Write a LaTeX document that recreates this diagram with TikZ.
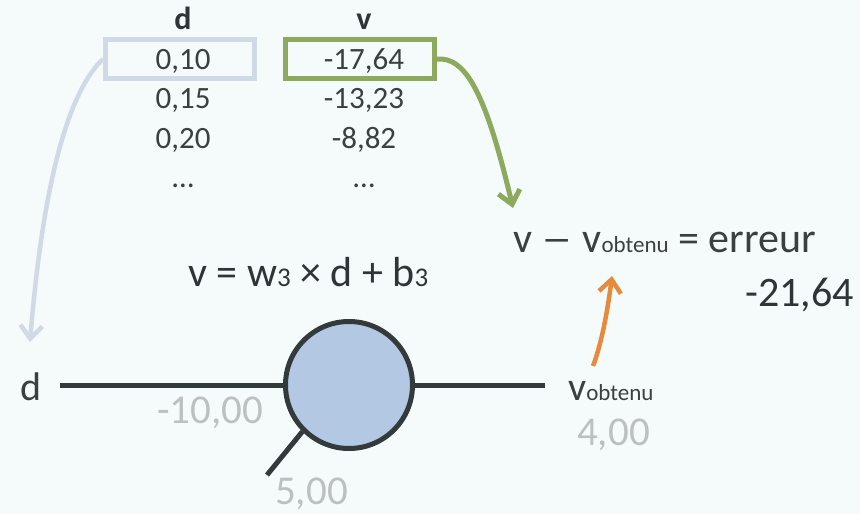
\documentclass[tikz,border=0pt]{standalone}
\usepackage{fontspec}
\setmainfont{Carlito}
\usetikzlibrary{arrows.meta}
\definecolor{bg}{HTML}{F5FAFA}
\definecolor{tdark}{HTML}{3A3F40}
\definecolor{tdeep}{HTML}{2F3536}
\definecolor{tgrey}{HTML}{BDC0C0}
\definecolor{boxblue}{HTML}{CFDAE6}
\definecolor{boxgreen}{HTML}{8DA95E}
\definecolor{cfill}{HTML}{B3C9E3}
\definecolor{cline}{HTML}{323A3B}
\definecolor{arrorange}{HTML}{E68B3E}
\newcommand\smallsub[1]{{\fontsize{23}{27}\selectfont #1}}
\newcommand\smalldigit[1]{{\fontsize{27}{32}\selectfont #1}}
\begin{document}
\begin{tikzpicture}[x=1pt,y=-1pt,
  cell/.style={inner sep=0pt, anchor=base, text=tdark, font=\fontsize{31}{37}\selectfont},
  hdr/.style={inner sep=0pt, anchor=base, text=tdeep, font=\fontsize{32}{38}\selectfont\bfseries},
  tbox/.style={draw=#1, line width=5pt, minimum width=149pt, minimum height=39pt, inner sep=0pt},
  lbl/.style={inner sep=0pt, anchor=base west, text=tdark, font=\fontsize{40}{48}\selectfont},
  glbl/.style={inner sep=0pt, anchor=base west, text=tgrey, font=\fontsize{41}{49}\selectfont},
  neuron/.style={circle, draw=cline, fill=cfill, line width=5pt, minimum size=127pt, inner sep=0pt},
  wire/.style={draw=cline, line width=5pt},
  barb/.style={line width=4.5pt, draw=#1, -{Straight Barb[length=13pt,width=22pt]}}
]
\useasboundingbox (0,0) rectangle (860,514);
\fill[bg] (0,0) rectangle (860,514);

% table
\node[hdr] (hd) at (183,30) {d};
\node[hdr] (hv) at (364,30) {v};
\node[tbox=boxblue] (bd) at (180,59) {};
\node[tbox=boxgreen] (bv) at (360,59) {};
\node[cell] (d1) at (183,69) {0,10};
\node[cell] (d2) at (183,108.5) {0,15};
\node[cell] (d3) at (183,148) {0,20};
\node[cell] (d4) at (183,187.5) {…};
\node[cell] (v1) at (364,69) {-17,64};
\node[cell] (v2) at (364,108.5) {-13,23};
\node[cell] (v3) at (364,148) {-8,82};
\node[cell] (v4) at (364,187.5) {…};

% neuron
\coordinate (in) at (60,385);
\coordinate (out) at (545,385);
\coordinate (bias) at (267,475);
\node[neuron] (n) at (349,385) {};
\draw[wire] (in) -- (n.west);
\draw[wire] (n.east) -- (out);
\draw[wire] (n.225) -- (bias);

% labels
\node[lbl] (din) at (20,400) {d};
\node[glbl] (wv) at (157,423) {-10,00};
\node[glbl] (bvv) at (275,504) {5,00};
\node[lbl] (vo) at (568,400) {v\smallsub{obtenu}};
\node[glbl] (vov) at (577,445) {4,00};
\node[lbl, font=\fontsize{42}{50}\selectfont] (eq1) at (513,252) {v \scalebox{1.5}[1]{–} v\smallsub{obtenu} = erreur};
\node[lbl, text=tdeep, font=\fontsize{42}{50}\selectfont] (err) at (745,306) {-21,64};
\node[lbl, text=tdeep, font=\fontsize{42}{50}\selectfont] (eq2) at (188,286) {v = w\smalldigit{3} × d + b\smalldigit{3}};

% arrows
\coordinate (btip) at (30,342);
\coordinate (gtip) at (513,208);
\coordinate (otail) at (593,366);
\coordinate (otip) at (612,276);
\draw[barb=boxblue] (bd.west) .. controls (60,100) and (40,220) .. (btip);
\draw[barb=boxgreen, line width=5pt] (bv.east) .. controls (465,57) and (485,90) .. (gtip);
\draw[barb=arrorange] (otail) .. controls (603,340) and (609,300) .. (otip);
\end{tikzpicture}
\end{document}
